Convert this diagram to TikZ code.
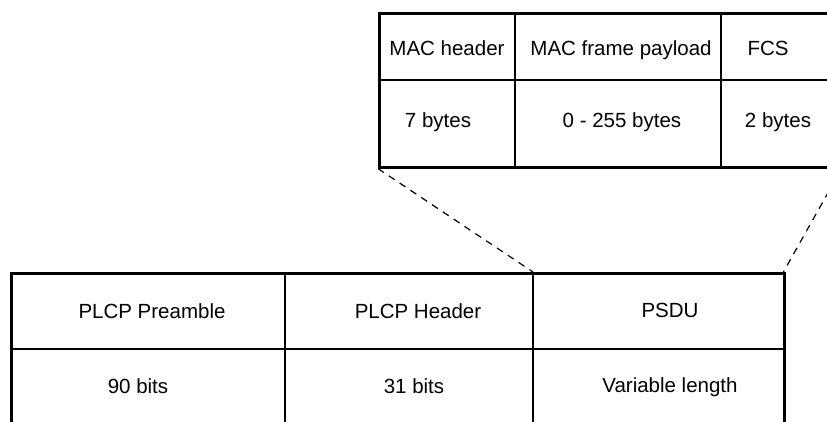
\documentclass[tikz,border=0pt]{standalone}
\usepackage{fontspec}
\setmainfont{Liberation Sans}
\begin{document}
\begin{tikzpicture}[x=1pt,y=-1pt,
  frame/.style={draw=black, line width=2.6pt, inner sep=0pt, anchor=north west},
  cellarea/.style={inner sep=0pt, anchor=north west},
  innerline/.style={draw=black, line width=1.3pt},
  zoomline/.style={draw=black, line width=1.2pt, dash pattern=on 7pt off 6pt},
  lbl/.style={inner sep=0pt, anchor=base, font=\fontsize{20.5}{24}\selectfont, text=black}]
\useasboundingbox (0,0) rectangle (827,421);
\clip (0,0) rectangle (827,421);
\fill[white] (0,0) rectangle (827,421);
% top table (MAC frame)
\node[frame, minimum width=461pt, minimum height=154pt] (mac) at (378,12) {};
\draw[innerline] (378,80) -- (839,80);
\draw[innerline] (515,12) -- (515,166);
\draw[innerline] (721,12) -- (721,166);
\node[lbl] (machdr) at (447,55) {MAC header};
\node[lbl] (macpay) at (621,55) {MAC frame payload};
\node[lbl] (fcs) at (768,55) {FCS};
\node[lbl] (hdrlen) at (438,127) {7 bytes};
\node[lbl] (paylen) at (622,127) {0 - 255 bytes};
\node[lbl] (fcslen) at (778,127) {2 bytes};
% bottom table (PPDU)
\node[frame, minimum width=773pt, minimum height=160pt] (ppdu) at (10,272) {};
\node[cellarea, minimum width=250pt, minimum height=160pt] (psdu) at (533,272) {};
\draw[innerline] (10,349) -- (783,349);
\draw[innerline] (285,272) -- (285,432);
\draw[innerline] (533,272) -- (533,432);
\node[lbl] (pre) at (152,318) {PLCP Preamble};
\node[lbl] (phdr) at (418,318) {PLCP Header};
\node[lbl] (psdut) at (670,317) {PSDU};
\node[lbl] (prelen) at (138,393) {90 bits};
\node[lbl] (phdrlen) at (414,393) {31 bits};
\node[lbl] (psdulen) at (670,392) {Variable length};
% zoom connectors
\draw[zoomline] (mac.south west) -- (psdu.north west);
\draw[zoomline] (mac.south east) -- (psdu.north east);
\end{tikzpicture}
\end{document}
